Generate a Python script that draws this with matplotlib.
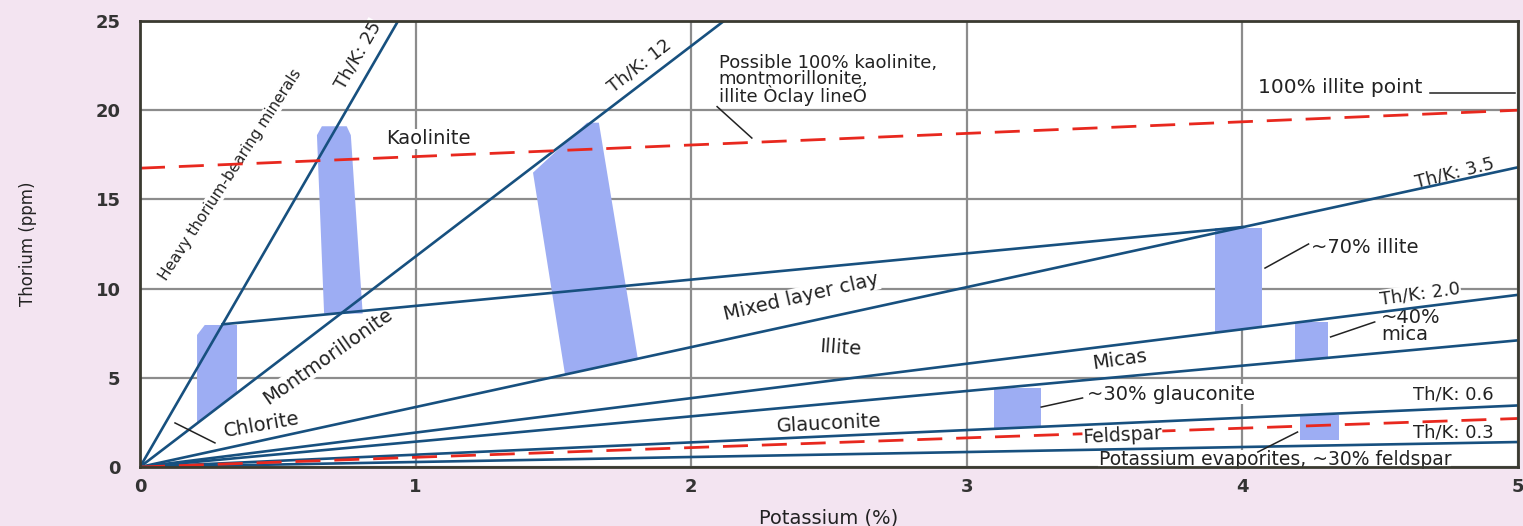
import matplotlib
matplotlib.use('Agg')
import matplotlib.pyplot as plt
import numpy as np

# ── Data ──────────────────────────────────────────────────────────────────────
x_ticks = [0, 1, 2, 3, 4, 5]
y_ticks = [0, 5, 10, 15, 20, 25]

# Th/K ratio lines from the origin (slopes as drawn on the chart)
ratio_slopes = [26.7, 11.8, 3.36, 1.93, 1.42, 0.69, 0.28]

# mixed layer clay upper boundary
mixed_k  = [0.30, 4.00]
mixed_th = [8.0, 13.45]

# red dashed lines: clay line and feldspar line
clay_k  = [0.0, 5.0]
clay_th = [16.75, 20.0]
feld_k  = [0.0, 5.0]
feld_th = [0.0, 2.72]

# shaded bands, outlines as (K %, Th ppm)
band_chlorite  = [(0.207, 2.46), (0.207, 7.4), (0.235, 7.96), (0.352, 7.96), (0.352, 4.15)]
band_montmor   = [(0.642, 18.6), (0.66, 19.1), (0.75, 19.1), (0.765, 18.6), (0.808, 8.6), (0.668, 8.6)]
band_kaolinite = [(1.426, 16.5), (1.622, 19.3), (1.665, 19.3), (1.807, 6.0), (1.542, 5.2)]
band_illite    = [(3.90, 7.53), (3.90, 13.4), (4.07, 13.4), (4.07, 7.86)]
band_mica      = [(4.19, 5.95), (4.19, 8.1), (4.31, 8.1), (4.31, 6.12)]
band_glauc     = [(3.10, 2.14), (3.10, 4.45), (3.27, 4.45), (3.27, 2.26)]
band_feldspar  = [(4.21, 1.5), (4.21, 2.9), (4.35, 2.9), (4.35, 1.5)]
bands = [band_chlorite, band_montmor, band_kaolinite, band_illite,
         band_mica, band_glauc, band_feldspar]

BLUE = '#17507f'
RED  = '#e8281e'
BAND = '#9dadf3'
GRID = '#8c8c8c'
BG   = '#f3e4f1'
INK  = '#222222'

plt.rcParams['font.family'] = ['DejaVu Sans']

fig = plt.figure(figsize=(15.23, 5.26), dpi=100, facecolor=BG)
ax = fig.add_axes([140 / 1523, 59 / 526, 1378 / 1523, 446 / 526])
ax.set_xlim(0, 5)
ax.set_ylim(0, 25)
ax.set_facecolor('white')

ax.set_xticks(x_ticks)
ax.set_yticks(y_ticks)
ax.tick_params(length=0, labelsize=13, colors='#333333')
ax.tick_params(axis='x', pad=8)
ax.tick_params(axis='y', pad=14)
for t in ax.get_xticklabels() + ax.get_yticklabels():
    t.set_fontweight('bold')
ax.grid(True, color=GRID, lw=1.6)
ax.set_axisbelow(True)
for sp in ax.spines.values():
    sp.set_color('#3a3a30')
    sp.set_linewidth(2.0)

ax.set_ylabel('Thorium (ppm)', fontsize=12, color=INK)
ax.yaxis.set_label_coords(-0.075, 0.5)
ax.set_xlabel('Potassium (%)', fontsize=14, color=INK, va='top')
ax.xaxis.set_label_coords(0.5, -0.092)

# bands
for b in bands:
    bk, bth = zip(*b)
    ax.fill(bk, bth, color=BAND, lw=0, zorder=1.5)

# ratio lines
k = np.array([0.0, 5.0])
for s in ratio_slopes:
    ax.plot(k, s * k, color=BLUE, lw=1.9, zorder=2, solid_capstyle='butt')
ax.plot(mixed_k, mixed_th, color=BLUE, lw=1.9, zorder=2)

# red dashed lines
ax.plot(clay_k, clay_th, color=RED, lw=2.0, dashes=(9, 5), zorder=2.5)
ax.plot(feld_k, feld_th, color=RED, lw=2.0, dashes=(9, 5), zorder=2.5)


def label(x, y, s, rot=0, size=14, ha='center', va='center', z=1.2, pad=0.4, **kw):
    ax.text(x, y, s, rotation=rot, rotation_mode='anchor', ha=ha, va=va,
            fontsize=size, color=INK, zorder=z,
            bbox=dict(fc='white', ec='none', pad=pad), **kw)


def leader(x1, y1, x2, y2):
    ax.plot([x1, x2], [y1, y2], color=INK, lw=1.1, zorder=3)


label(0.79, 23.1, 'Th/K: 25', rot=60, size=13)
label(0.327, 16.4, 'Heavy thorium-bearing minerals', rot=57, size=11)
label(1.045, 18.4, 'Kaolinite')
label(1.814, 22.5, 'Th/K: 12', rot=38, size=13)
label(2.10, 21.7, 'Possible 100% kaolinite,\nmontmorillonite,\nillite \u00d2clay line\u00d3',
      ha='left', size=13, linespacing=0.85)
leader(2.094, 20.2, 2.22, 18.44)
label(4.056, 21.25, '100% illite point', ha='left', size=14.5)
leader(4.68, 20.96, 4.99, 20.96)
label(4.77, 16.5, 'Th/K: 3.5', rot=14, size=13)
label(2.40, 9.53, 'Mixed layer clay', rot=13)
label(2.54, 6.67, 'Illite', rot=-4)
label(0.68, 6.17, 'Montmorillonite', rot=35)
label(0.443, 2.35, 'Chlorite', rot=10)
leader(0.127, 2.47, 0.272, 1.35)
label(2.50, 2.41, 'Glauconite', rot=3)
label(3.556, 6.0, 'Micas', rot=8)
label(4.645, 9.7, 'Th/K: 2.0', rot=8, size=13)
label(4.25, 12.33, '~70% illite', ha='left')
leader(4.082, 11.15, 4.24, 12.5)
label(4.503, 7.9, '~40%\nmica', ha='left', linespacing=0.85)
leader(4.32, 7.29, 4.48, 8.13)
label(3.436, 4.09, '~30% glauconite', ha='left')
leader(3.27, 3.36, 3.42, 3.87)
label(4.765, 4.04, 'Th/K: 0.6', size=13)
label(4.765, 1.96, 'Th/K: 0.3', size=13)
label(3.565, 1.78, 'Feldspar', rot=3, size=13.5, z=2.7, pad=0.1)
label(4.118, 0.42, 'Potassium evaporites, ~30% feldspar', size=13.5, pad=0.1)
leader(4.2, 1.96, 4.056, 0.84)

fig.savefig('out.png', dpi=100, facecolor=BG)
